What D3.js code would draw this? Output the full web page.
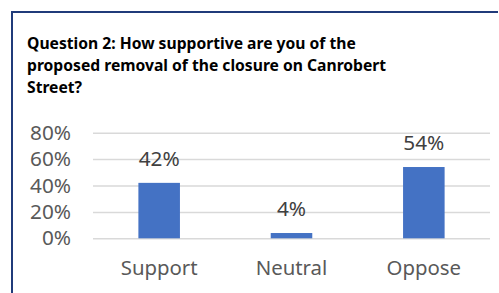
<!DOCTYPE html>
<html>
<head>
<meta charset="utf-8">
<script src="https://cdn.jsdelivr.net/npm/d3@7"></script>
<style>
  html, body { margin: 0; padding: 0; background: #fff; }
  svg { display: block; }
</style>
</head>
<body>
<svg id="chart"></svg>
<script>
// chart data
const categories = ["Support", "Neutral", "Oppose"];
const values = [0.42, 0.04, 0.54];
const yTicks = [0, 0.2, 0.4, 0.6, 0.8];
const titleLines = [
  "Question 2: How supportive are you of the",
  "proposed removal of the closure on Canrobert",
  "Street?"
];

const width = 499, height = 293;
const margin = { top: 132.7, right: 9, bottom: 54.7, left: 93 };
const font = "'Noto Sans', 'Open Sans', sans-serif";

const svg = d3.select("#chart")
  .attr("width", width)
  .attr("height", height);

// find a font size so that a sample string has the wanted width
function fitSize(sample, weight, target) {
  let t = svg.append("text")
    .style("font-family", font)
    .style("font-weight", weight)
    .style("font-size", "20px")
    .text(sample);
  let w = t.node().getComputedTextLength();
  t.remove();
  return 20 * target / w;
}

const titleSize = fitSize(titleLines[0], "bold", 329);
const tickSize = fitSize("80%", "normal", 41);
const catSize = fitSize("Support", "normal", 77);

// frame border (top + left visible)
svg.append("path")
  .attr("d", "M12,293 L12,12 L498,12")
  .attr("fill", "none")
  .attr("stroke", "#203b7a")
  .attr("stroke-width", 2);

// title
svg.append("g")
  .selectAll("text")
  .data(titleLines)
  .enter()
  .append("text")
  .attr("x", 27)
  .attr("y", (d, i) => 49 + i * 22)
  .style("font-family", font)
  .style("font-weight", "bold")
  .style("font-size", titleSize + "px")
  .style("fill", "#000")
  .text(d => d);

const g = svg.append("g")
  .attr("transform", "translate(" + margin.left + "," + margin.top + ")");

const innerW = width - margin.left - margin.right;
const innerH = height - margin.top - margin.bottom;

const xScale = d3.scaleBand()
  .domain(categories)
  .range([0, innerW])
  .paddingInner(0.686)
  .paddingOuter(0.343);

const yScale = d3.scaleLinear()
  .domain([0, 0.8])
  .range([innerH, 0]);

// gridlines
g.append("g")
  .attr("class", "grid")
  .call(d3.axisLeft(yScale).tickValues(yTicks).tickSize(-innerW).tickFormat(""))
  .call(s => s.select(".domain").remove())
  .call(s => s.selectAll("line").attr("stroke", "#d9d9d9").attr("stroke-width", 1.5));

// y axis labels
g.append("g")
  .call(d3.axisLeft(yScale).tickValues(yTicks).tickSize(0).tickPadding(22)
    .tickFormat(d3.format(".0%")))
  .call(s => s.select(".domain").remove())
  .call(s => s.selectAll("text")
    .style("font-family", font)
    .style("font-size", tickSize + "px")
    .style("fill", "#595959"));

// x axis labels
g.append("g")
  .attr("transform", "translate(0," + innerH + ")")
  .call(d3.axisBottom(xScale).tickSize(0).tickPadding(22))
  .call(s => s.select(".domain").remove())
  .call(s => s.selectAll("text")
    .style("font-family", font)
    .style("font-size", catSize + "px")
    .style("fill", "#595959"));

// bars
g.selectAll(".bar")
  .data(values)
  .enter()
  .append("rect")
  .attr("class", "bar")
  .attr("x", (d, i) => xScale(categories[i]))
  .attr("y", d => yScale(d))
  .attr("width", xScale.bandwidth())
  .attr("height", d => innerH - yScale(d))
  .attr("fill", "#4472c4");

// value labels
g.selectAll(".val")
  .data(values)
  .enter()
  .append("text")
  .attr("class", "val")
  .attr("x", (d, i) => xScale(categories[i]) + xScale.bandwidth() / 2)
  .attr("y", d => yScale(d) - 17)
  .attr("text-anchor", "middle")
  .style("font-family", font)
  .style("font-size", tickSize + "px")
  .style("fill", "#404040")
  .text(d => d3.format(".0%")(d));
</script>
</body>
</html>
